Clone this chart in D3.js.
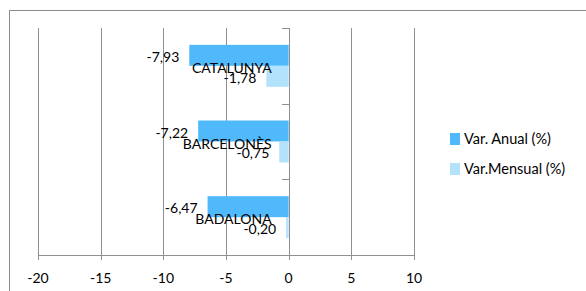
<!DOCTYPE html>
<html><head><meta charset="utf-8">
<script src="https://cdn.jsdelivr.net/npm/d3@7"></script>
<style>body{margin:0;background:#fff}svg{display:block}text{font-family:Lato,"Open Sans",sans-serif;fill:#000}</style>
</head><body><svg id="c" width="586" height="291"></svg>
<script>
const categories = ["CATALUNYA", "BARCELONÈS", "BADALONA"];
const seriesNames = ["Var. Anual (%)", "Var.Mensual (%)"];
const anual = [-7.93, -7.22, -6.47];
const mensual = [-1.78, -0.75, -0.20];
const xTicks = [-20, -15, -10, -5, 0, 5, 10];
const colors = ["#4FB9FC", "#B3E2FC"];

const svg = d3.select("#c");
const fmt = v => v.toFixed(2).replace(".", ",");

svg.append("rect").attr("x", 9.5).attr("y", 10.5).attr("width", 700).attr("height", 400)
  .attr("fill", "none").attr("stroke", "#8c8c8c");

const x = d3.scaleLinear().domain([-20, 10]).range([38, 414]);
const y = d3.scaleBand().domain(categories).range([28, 255]).paddingInner(0.445).paddingOuter(0.2225);
const ys = d3.scaleBand().domain([0, 1]).range([0, y.bandwidth()]);
const grid = "#8f8f8f";

// gridlines
svg.append("g").selectAll("line").data(xTicks).join("line")
  .attr("x1", d => Math.round(x(d)) + 0.5).attr("x2", d => Math.round(x(d)) + 0.5)
  .attr("y1", 28).attr("y2", 260).attr("stroke", grid);
// x axis line
svg.append("line").attr("x1", x(-20)).attr("x2", x(10)).attr("y1", 255.5).attr("y2", 255.5).attr("stroke", grid);
// y axis ticks
const yt = [28, ...categories.map(c => y(c) + y.bandwidth() + y.step() * 0.445 / 2)];
svg.append("g").selectAll("line").data(yt).join("line")
  .attr("x1", Math.round(x(0)) - 7).attr("x2", Math.round(x(0)) + 0.5)
  .attr("y1", d => Math.round(d) + 0.5).attr("y2", d => Math.round(d) + 0.5).attr("stroke", grid);

const fs = 14;
// x tick labels
svg.append("g").selectAll("text").data(xTicks).join("text")
  .attr("x", d => x(d)).attr("y", 283).attr("text-anchor", "middle")
  .attr("font-size", fs).text(d => d);

const series = [anual, mensual];
series.forEach((vals, si) => {
  svg.append("g").selectAll("rect").data(vals).join("rect")
    .attr("x", d => x(d)).attr("width", d => x(0) - x(d))
    .attr("y", (d, i) => y(categories[i]) + ys(si)).attr("height", ys.bandwidth())
    .attr("fill", colors[si]);
});

// category labels
svg.append("g").selectAll("text").data(categories).join("text")
  .attr("x", x(0) - 17).attr("y", c => y(c) + y.bandwidth() / 2 + 7)
  .attr("text-anchor", "end").attr("font-size", fs).text(c => c);

// value labels
series.forEach((vals, si) => {
  svg.append("g").selectAll("text").data(vals).join("text")
    .attr("x", d => x(d) - 10)
    .attr("y", (d, i) => y(categories[i]) + ys(si) + ys.bandwidth() / 2 + 6.5)
    .attr("text-anchor", "end").attr("font-size", fs).text(d => fmt(d));
});

// legend
const lg = svg.append("g");
seriesNames.forEach((n, i) => {
  lg.append("rect").attr("x", 450).attr("y", 133 + i * 30).attr("width", 10).attr("height", 12).attr("fill", colors[i]);
  lg.append("text").attr("x", 464).attr("y", 144 + i * 30).attr("font-size", 14.5).text(n);
});
</script></body></html>
